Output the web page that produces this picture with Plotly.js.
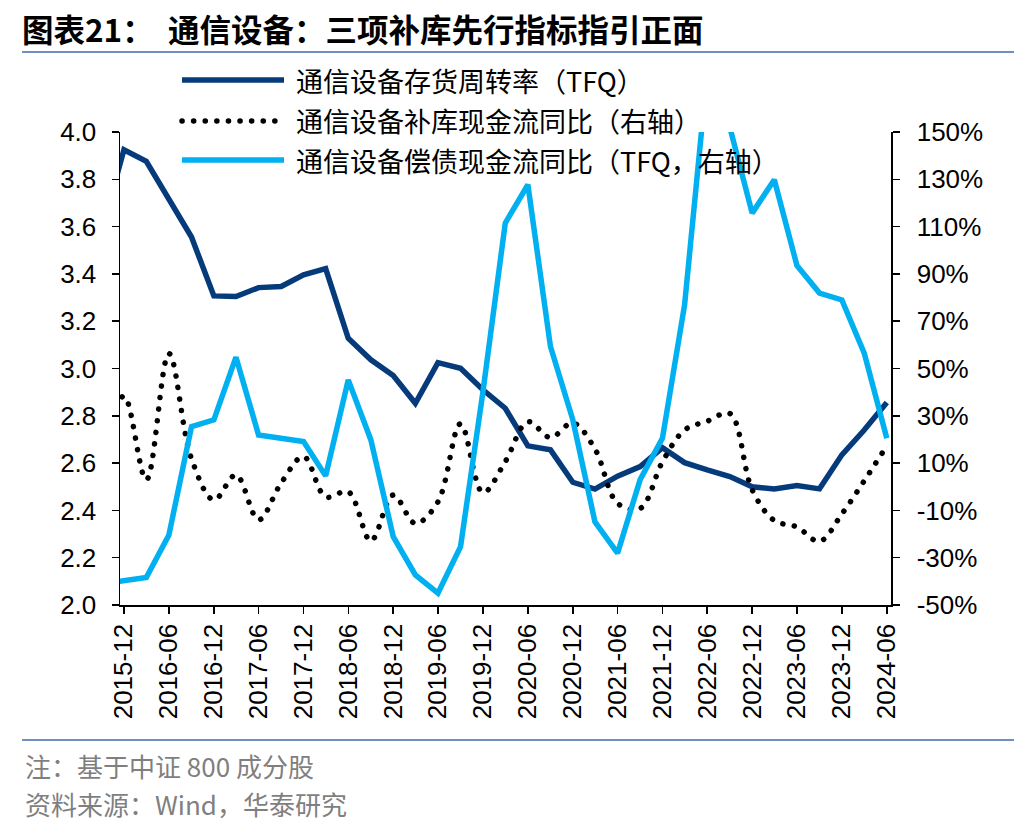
<!DOCTYPE html>
<html>
<head>
<meta charset="utf-8">
<script src="https://cdn.plot.ly/plotly-3.0.1.min.js"></script>
<style>
  html, body { margin: 0; padding: 0; background: #fff; }
  #chart { width: 1036px; height: 832px; }
  path[style*="0.1px"] { stroke-linecap: round; }
</style>
</head>
<body>
<div id="chart"></div>
<script>
// ---- data (quarterly) ----
const dates = ['2015-09','2015-12','2016-03','2016-06','2016-09','2016-12','2017-03','2017-06','2017-09','2017-12',
  '2018-03','2018-06','2018-09','2018-12','2019-03','2019-06','2019-09','2019-12','2020-03','2020-06',
  '2020-09','2020-12','2021-03','2021-06','2021-09','2021-12','2022-03','2022-06','2022-09','2022-12',
  '2023-03','2023-06','2023-09','2023-12','2024-03','2024-06'];
// 通信设备存货周转率（TFQ） – left axis
const inventoryTurnover = [3.58, 3.925, 3.876, 3.716, 3.556, 3.307, 3.304, 3.342, 3.347, 3.396,
  3.422, 3.128, 3.037, 2.970, 2.853, 3.025, 3.001, 2.910, 2.832, 2.673,
  2.656, 2.519, 2.490, 2.545, 2.585, 2.665, 2.602, 2.571, 2.543, 2.500,
  2.491, 2.505, 2.491, 2.635, 2.740, 2.856];
// 通信设备补库现金流同比（右轴）, %
const restockCashflowYoY = [10, 38.4, 2.9, 56.3, 11.8, -5.6, 5.0, -14.0, 1.6, 12.8,
  -4.3, -2.1, -22.9, -3.5, -15.5, -6.4, 26.6, -2.5, 10.6, 27.5,
  20.8, 27.0, 16.0, -7.0, -9.2, 10.6, 24.0, 27.7, 31.0, -1.3,
  -14.3, -17.0, -23.1, -11.5, 2.5, 17.3];
// 通信设备偿债现金流同比（TFQ，右轴）, %
const debtCashflowYoY = [-41, -39.8, -38.4, -20.4, 25.4, 28.3, 54.8, 21.9, 20.6, 19.1,
  4.6, 45.2, 19.8, -21.1, -37.3, -45.0, -25.3, 40.0, 111.5, 127.7,
  59.3, 28.3, -14.8, -28.1, 3.0, 20.6, 77.0, 175.0, 152.0, 115.7,
  129.8, 93.6, 81.9, 79.0, 56.5, 20.5];

// right-axis tick values and labels
const rightTickVals = [-50, -30, -10, 10, 30, 50, 70, 90, 110, 130, 150];
const rightTickText = ['-50%', '-30%', '-10%', '10%', '30%', '50%', '70%', '90%', '110%', '130%', '150%'];

const seriesNames = ['通信设备存货周转率（TFQ）', '通信设备补库现金流同比（右轴）', '通信设备偿债现金流同比（TFQ，右轴）'];
const titleText = '图表21：  通信设备：三项补库先行指标指引正面';
const noteText = '注：基于中证 800 成分股';
const sourceText = '资料来源：Wind，华泰研究';

const cNavy = '#063b7b', cLight = '#00b0f0';
const latin = 'Liberation Sans, Arial, sans-serif';
const cjk = 'Noto Sans CJK SC, sans-serif';

// plot-area pixel frame (for placing non-data decorations)
const L = 120, R = 891, T = 132, B = 605;
const px = x => (x - L) / (R - L);
const py = y => (B - y) / (B - T);

const traces = [
  { x: dates, y: inventoryTurnover, type: 'scatter', mode: 'lines', name: seriesNames[0],
    line: { color: cNavy, width: 5.5 }, yaxis: 'y' },
  { x: dates, y: restockCashflowYoY, type: 'scatter', mode: 'lines', name: seriesNames[1],
    line: { color: '#000', width: 5.5, dash: '0.1px,11.5px', shape: 'spline', smoothing: 1 }, yaxis: 'y2' },
  { x: dates, y: debtCashflowYoY, type: 'scatter', mode: 'lines', name: seriesNames[2],
    line: { color: cLight, width: 5.5 }, yaxis: 'y2' }
];

const tickFont = { family: latin, size: 26, color: '#000' };

const legendRows = [
  { y: 80, color: cNavy, dash: 'solid', width: 5.5 },
  { y: 121, color: '#000', dash: '0.1px,11.5px', width: 5.5 },
  { y: 160, color: cLight, dash: 'solid', width: 5.5 }
];

const shapes = [
  { type: 'line', xref: 'paper', yref: 'paper', x0: px(22), x1: px(1014), y0: py(52), y1: py(52),
    line: { color: '#6f8fc0', width: 2 } },
  { type: 'line', xref: 'paper', yref: 'paper', x0: px(22), x1: px(1014), y0: py(740), y1: py(740),
    line: { color: '#6f8fc0', width: 2 } }
];
const annotations = [
  { xref: 'paper', yref: 'paper', x: px(23), y: py(765), xanchor: 'left', yanchor: 'middle', showarrow: false,
    text: noteText, font: { family: cjk, size: 26, color: '#7f7f7f' } },
  { xref: 'paper', yref: 'paper', x: px(23), y: py(803), xanchor: 'left', yanchor: 'middle', showarrow: false,
    text: sourceText, font: { family: cjk, size: 26, color: '#7f7f7f' } }
];
legendRows.forEach((r, i) => {
  shapes.push({ type: 'line', xref: 'paper', yref: 'paper', x0: px(182), x1: px(284), y0: py(r.y), y1: py(r.y),
    line: { color: r.color, width: r.width, dash: r.dash } });
  annotations.push({ xref: 'paper', yref: 'paper', x: px(294), y: py(r.y), xanchor: 'left', yanchor: 'middle',
    showarrow: false, text: seriesNames[i], font: { family: cjk, size: 27, color: '#000' } });
});

const layout = {
  width: 1036, height: 832,
  margin: { l: L, r: 1036 - R, t: T, b: 832 - B, pad: 0 },
  paper_bgcolor: '#fff', plot_bgcolor: '#fff',
  showlegend: false,
  title: { text: '<b>' + titleText + '</b>', xref: 'container', yref: 'container',
    x: 22 / 1036, xanchor: 'left', y: 1 - 31 / 832, yanchor: 'middle',
    font: { family: cjk, size: 31.5, color: '#000' } },
  xaxis: {
    type: 'date', range: ['2015-11-15', '2024-06-18'],
    tick0: '2015-12-01', dtick: 'M6', tickformat: '%Y-%m', tickangle: -90,
    ticks: 'outside', ticklen: 7, tickwidth: 1.5, tickcolor: '#000',
    showline: true, linecolor: '#000', linewidth: 1.5, showgrid: false, zeroline: false,
    tickfont: tickFont
  },
  yaxis: {
    range: [2.0, 4.0], dtick: 0.2, tick0: 2.0, tickformat: '.1f',
    ticks: 'outside', ticklen: 7, tickwidth: 1.5, tickcolor: '#000', ticklabelstandoff: 10,
    showline: true, linecolor: '#000', linewidth: 1.5, showgrid: false, zeroline: false,
    tickfont: tickFont
  },
  yaxis2: {
    overlaying: 'y', side: 'right', range: [-50, 150],
    tickmode: 'array', tickvals: rightTickVals, ticktext: rightTickText,
    ticks: 'outside', ticklen: 7, tickwidth: 1.5, tickcolor: '#000', ticklabelstandoff: 12,
    showline: true, linecolor: '#000', linewidth: 1.5, showgrid: false, zeroline: false,
    tickfont: tickFont
  },
  shapes: shapes,
  annotations: annotations
};

Plotly.newPlot('chart', traces, layout, { displayModeBar: false, staticPlot: true });
</script>
</body>
</html>
